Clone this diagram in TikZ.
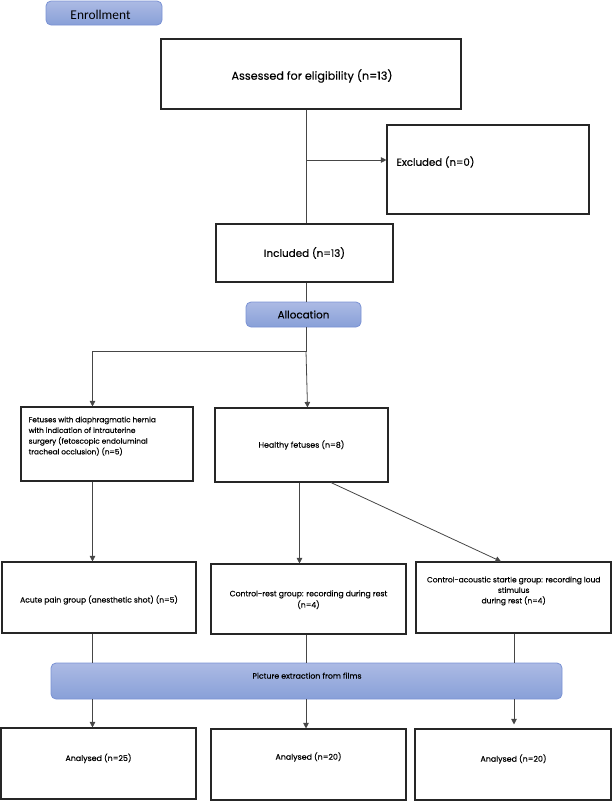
\documentclass[tikz,border=0pt]{standalone}
\usepackage{fontspec}
\setmainfont{Poppins}[FakeBold=0.3]
\newfontfamily\calfont{Carlito}
\usetikzlibrary{arrows.meta}
\definecolor{bluetop}{RGB}{172,186,228}
\definecolor{bluebot}{RGB}{136,160,216}
\definecolor{blueedge}{RGB}{122,146,212}
\definecolor{linegray}{RGB}{70,70,70}
\tikzset{
  box/.style={draw=black!85, line width=1.1pt, fill=white, inner sep=0pt},
  bluebox/.style={draw=blueedge, line width=0.8pt, rounded corners=5pt, top color=bluetop, bottom color=bluebot, inner sep=0pt},
  conn/.style={draw=linegray, line width=0.8pt},
  arr/.style={conn, -{Triangle[length=5.5pt,width=5.5pt]}},
  txt/.style={inner sep=0pt, text=black, font=\fontsize{10.4}{12}\selectfont},
  small/.style={inner sep=0pt, text=black, font=\fontsize{7.6}{10.7}\selectfont}
}
\begin{document}
\begin{tikzpicture}[x=1pt,y=-1pt]
\useasboundingbox (0,0) rectangle (612,801);
% blue bars
\node[bluebox, minimum width=116pt, minimum height=24pt] (enr) at (104,13) {};
\node[inner sep=0pt, font=\calfont\fontsize{13.4}{15}\selectfont] (enrt) at (100.5,14.5) {Enrollment};
\node[bluebox, minimum width=115pt, minimum height=25pt, font=\fontsize{10.4}{12}\selectfont] (alloc) at (303.5,314.5) {Allocation};
\node[bluebox, minimum width=511pt, minimum height=36pt] (pict) at (306.5,681) {};
\node[small, font=\fontsize{7.8}{10}\selectfont] (pictt) at (307,675.7) {Picture extraction from films};
% boxes
\node[box, minimum width=300pt, minimum height=70pt] (assess) at (311,74) {};
\node[txt, font=\fontsize{11.2}{13}\selectfont] (assesst) at (312,76) {Assessed for eligibility (n=13)};
\node[box, minimum width=202pt, minimum height=89pt] (excl) at (488,169.5) {};
\node[txt, font=\fontsize{10.2}{12}\selectfont, anchor=west] (exclt) at (396.5,162) {Excluded (n=0)};
\node[box, minimum width=177pt, minimum height=58pt, txt] (incl) at (304.5,253) {Included (n=13)};
\node[box, minimum width=172pt, minimum height=74pt] (fet) at (107,444) {};
\node[small, font=\fontsize{7.3}{10.7}\selectfont, anchor=north west, align=left] (fett) at (28.5,416.5) {Fetuses with diaphragmatic hernia\\with indication of intrauterine\\surgery (fetoscopic endoluminal\\tracheal occlusion) (n=5)};
\node[box, minimum width=173pt, minimum height=74pt, small, font=\fontsize{7.9}{10}\selectfont] (healthy) at (301.5,445) {Healthy fetuses (n=8)};
\node[box, minimum width=194pt, minimum height=71pt] (acute) at (99,597.5) {};
\node[small] (acutet) at (99,600) {Acute pain group (anesthetic shot) (n=5)};
\node[box, minimum width=195pt, minimum height=70pt] (crest) at (308.5,599) {};
\node[small, align=center, font=\fontsize{7.7}{11.3}\selectfont] (crestt) at (308.5,599.7) {Control-rest group: recording during rest\\(n=4)};
\node[box, minimum width=195pt, minimum height=71pt] (cstart) at (513.5,597.5) {};
\node[small, align=center, font=\fontsize{7.5}{10.5}\selectfont] (cstartt) at (513.7,591) {Control-acoustic startle group: recording loud\\stimulus\\during rest (n=4)};
\node[box, minimum width=195pt, minimum height=71pt] (an1) at (98.5,763.5) {};
\node[small, font=\fontsize{7.9}{10}\selectfont] (an1t) at (98.5,758.3) {Analysed (n=25)};
\node[box, minimum width=195pt, minimum height=71pt] (an2) at (308.5,764.5) {};
\node[small, font=\fontsize{7.9}{10}\selectfont] (an2t) at (308.5,757) {Analysed (n=20)};
\node[box, minimum width=196pt, minimum height=71pt] (an3) at (513,764.5) {};
\node[small, font=\fontsize{7.9}{10}\selectfont] (an3t) at (513.5,759) {Analysed (n=20)};
% junctions
\coordinate (j1) at (306,160);
\coordinate (j2) at (306,351);
\coordinate (j3) at (92.5,351);
\coordinate (jh) at (299.5,482);
\coordinate (jr) at (514,633);
% connectors
\draw[conn] (assess.south -| j1) -- (incl.north -| j1);
\draw[arr] (j1) -- (excl.west |- j1);
\draw[conn] (incl.south -| j1) -- (alloc.north -| j1);
\draw[conn] (alloc.south -| j2) -- (j2) -- (j3);
\draw[arr] (j3) -- (fet.north -| j3);
\draw[arr] (j2) -- ([xshift=1.5pt]healthy.north -| j2);
\draw[arr] (fet.south -| j3) -- (acute.north -| j3);
\draw[arr] (healthy.south -| jh) -- (crest.north -| jh);
\draw[arr] ([xshift=29.5pt]healthy.south) -- ([xshift=-12.5pt]cstart.north);
\draw[conn] (acute.south -| j3) -- (pict.north -| j3);
\draw[conn] (crest.south -| j2) -- (pict.north -| j2);
\draw[conn] (cstart.south -| jr) -- (pict.north -| jr);
\draw[arr] (pict.south -| j3) -- (an1.north -| j3);
\draw[arr] (pict.south -| j2) -- (an2.north -| j2);
\draw[arr] (pict.south -| jr) -- ([yshift=4pt]an3.north -| jr);
\end{tikzpicture}
\end{document}
